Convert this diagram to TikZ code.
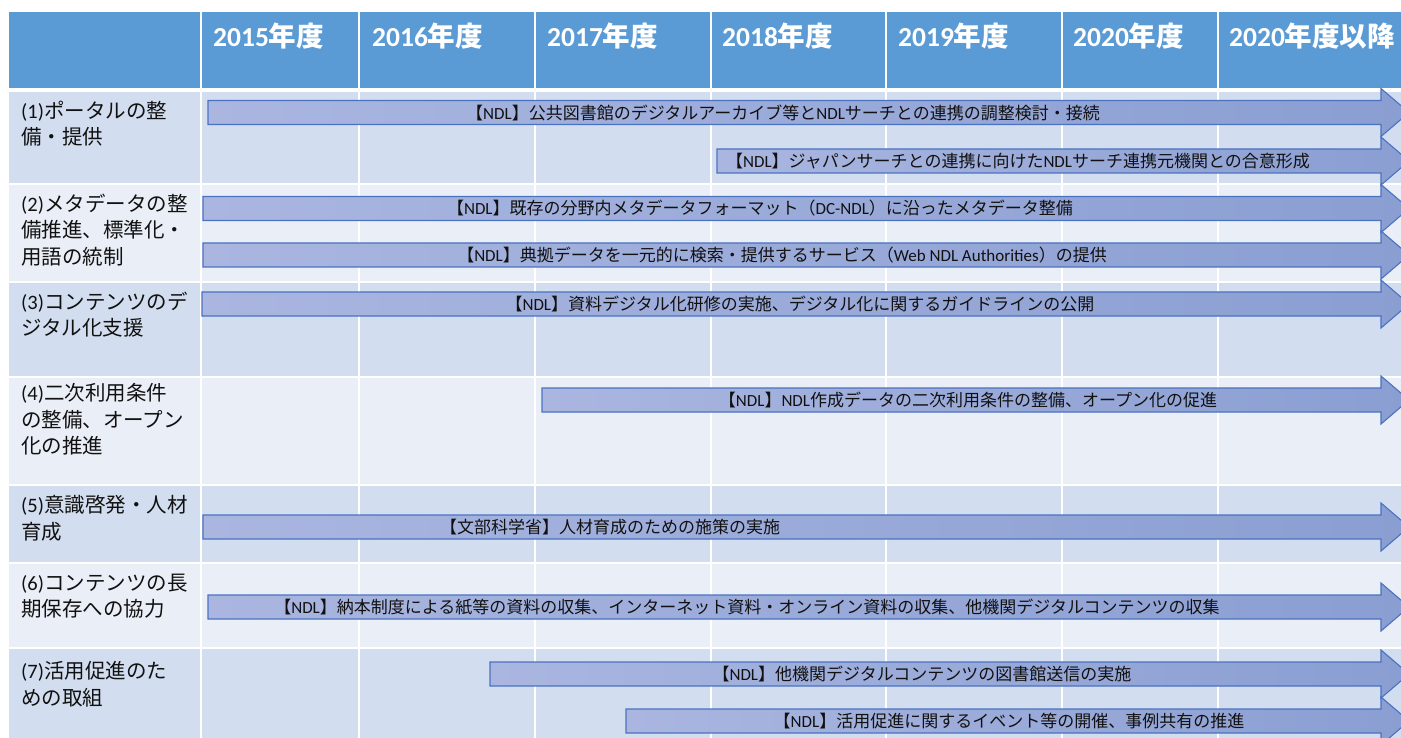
\documentclass[tikz,border=0pt]{standalone}
\usepackage{fontspec}
\setmainfont{Noto Sans CJK JP}
\newfontfamily\latfont{Carlito}
\newcommand\la[1]{{\latfont #1}}
\definecolor{hdr}{HTML}{5B9BD5}
\definecolor{banda}{HTML}{D2DEEF}
\definecolor{bandb}{HTML}{EAEFF7}
\definecolor{arrl}{HTML}{AAB6E0}
\definecolor{arrr}{HTML}{8A9ED2}
\definecolor{arrb}{HTML}{4A72C0}
\definecolor{txt}{HTML}{111111}
\tikzset{
  arrowbody/.style={draw=arrb, line width=1.1pt, left color=arrl, right color=arrr, line join=miter},
  arrowtext/.style={inner sep=0pt, font=\fontsize{17}{20}\selectfont, text=txt},
  rowlabel/.style={inner sep=0pt, anchor=north west, align=left, font=\fontsize{20.5}{26.5}\selectfont, text=txt},
  yearlabel/.style={inner sep=0pt, anchor=west, font=\fontsize{27.5}{30}\selectfont\bfseries, text=white},
  gridline/.style={draw=white, line width=2pt},
}
% #1 name, #2 left x, #3 centre y, #4 text centre x, #5 text
\newcommand\ganttarrow[5]{%
  \path[arrowbody] (#2,{#3-12}) -- (1381,{#3-12}) -- (1381,{#3-24}) -- (1409,#3)
    -- (1381,{#3+24}) -- (1381,{#3+12}) -- (#2,{#3+12}) -- cycle;
  \node[arrowtext] (#1) at (#4,#3) {#5};
}
\begin{document}
\begin{tikzpicture}[x=1pt,y=-1pt]
\useasboundingbox (0,0) rectangle (1401,738);
\clip (0,0) rectangle (1401,738);
\fill[white] (0,0) rectangle (1401,738);
% header row
\fill[hdr] (9,12) rectangle (1405,88);
% body rows
\fill[banda] (9,92) rectangle (1405,184.5);
\fill[bandb] (9,184.5) rectangle (1405,282.5);
\fill[banda] (9,282.5) rectangle (1405,376.5);
\fill[bandb] (9,376.5) rectangle (1405,484.5);
\fill[banda] (9,484.5) rectangle (1405,562.5);
\fill[bandb] (9,562.5) rectangle (1405,647.5);
\fill[banda] (9,647.5) rectangle (1405,740);
% white grid lines
\foreach \yy in {184.5,282.5,376.5,484.5,562.5,647.5}
  \draw[gridline] (9,\yy) -- (1405,\yy);
\foreach \xx in {201,359,535,710.5,886,1061.5,1217.5}
  \draw[gridline] (\xx,12) -- (\xx,740);
% header labels
\node[yearlabel] (y2015) at (213,36) {\la{2015}年度};
\node[yearlabel] (y2016) at (372,36) {\la{2016}年度};
\node[yearlabel] (y2017) at (547,36) {\la{2017}年度};
\node[yearlabel] (y2018) at (722,36) {\la{2018}年度};
\node[yearlabel] (y2019) at (898,36) {\la{2019}年度};
\node[yearlabel] (y2020) at (1073,36) {\la{2020}年度};
\node[yearlabel] (ylater) at (1229,36) {\la{2020}年度以降};
% row labels
\node[rowlabel] (r1) at (21,100.5) {\la{(1)}ポータルの整\\備・提供};
\node[rowlabel] (r2) at (21,193.5) {\la{(2)}メタデータの整\\備推進、標準化・\\用語の統制};
\node[rowlabel] (r3) at (21,291.5) {\la{(3)}コンテンツのデ\\ジタル化支援};
\node[rowlabel] (r4) at (21,383.5) {\la{(4)}二次利用条件\\の整備、オープン\\化の推進};
\node[rowlabel] (r5) at (21,495.5) {\la{(5)}意識啓発・人材\\育成};
\node[rowlabel] (r6) at (21,573.5) {\la{(6)}コンテンツの長\\期保存への協力};
\node[rowlabel] (r7) at (21,661.5) {\la{(7)}活用促進のた\\めの取組};
% arrows
\ganttarrow{a1}{208}{112.5}{783}{【\la{NDL}】公共図書館のデジタルアーカイブ等と\la{NDL}サーチとの連携の調整検討・接続}
\ganttarrow{a2}{717}{161}{1018}{【\la{NDL}】ジャパンサーチとの連携に向けた\la{NDL}サーチ連携元機関との合意形成}
\ganttarrow{a3}{203}{208.5}{760}{【\la{NDL}】既存の分野内メタデータフォーマット（\la{DC-NDL}）に沿ったメタデータ整備}
\ganttarrow{a4}{203}{255}{782}{【\la{NDL}】典拠データを一元的に検索・提供するサービス（\la{Web NDL Authorities}）の提供}
\ganttarrow{a5}{202}{304}{800}{【\la{NDL}】資料デジタル化研修の実施、デジタル化に関するガイドラインの公開}
\ganttarrow{a6}{542}{400}{968}{【\la{NDL}】\la{NDL}作成データの二次利用条件の整備、オープン化の促進}
\ganttarrow{a7}{203}{527}{610}{【文部科学省】人材育成のための施策の実施}
\ganttarrow{a8}{208}{607}{747}{【\la{NDL}】納本制度による紙等の資料の収集、インターネット資料・オンライン資料の収集、他機関デジタルコンテンツの収集}
\ganttarrow{a9}{490}{674}{922}{【\la{NDL}】他機関デジタルコンテンツの図書館送信の実施}
\ganttarrow{a10}{626}{721}{1009}{【\la{NDL}】活用促進に関するイベント等の開催、事例共有の推進}
\end{tikzpicture}
\end{document}
